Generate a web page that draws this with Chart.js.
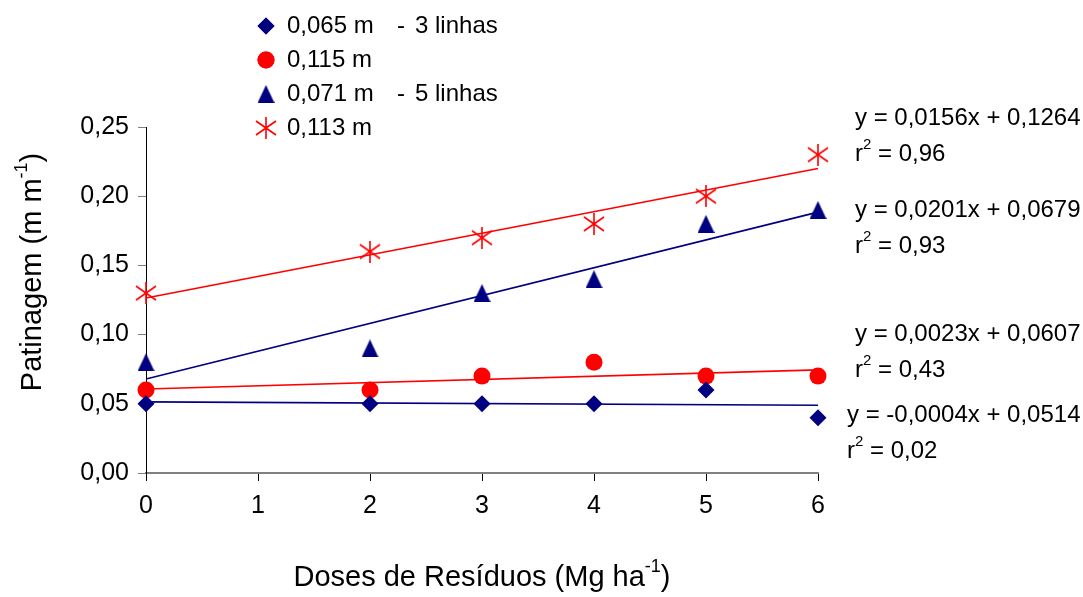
<!DOCTYPE html>
<html>
<head>
<meta charset="utf-8">
<script src="https://cdn.jsdelivr.net/npm/chart.js@4/dist/chart.umd.min.js"></script>
<style>
  html, body { margin: 0; padding: 0; background: #fff; }
  #wrap { position: relative; width: 1083px; height: 597px; }
</style>
</head>
<body>
<div id="wrap"><canvas id="c" width="1083" height="597"></canvas></div>
<script>
// ── Data ───────────────────────────────────────────────────────────
const DOSES   = [0, 2, 3, 4, 5, 6];
const S_065   = [0.05, 0.05, 0.05, 0.05, 0.06, 0.04];   // 0,065 m - 3 linhas
const S_115   = [0.06, 0.06, 0.07, 0.08, 0.07, 0.07];   // 0,115 m
const S_071   = [0.08, 0.09, 0.13, 0.14, 0.18, 0.19];   // 0,071 m - 5 linhas
const S_113   = [0.13, 0.16, 0.17, 0.18, 0.20, 0.23];   // 0,113 m

// fitted lines, value at x = 0 and x = 6
const FIT_X   = [0, 6];
const FIT_065 = [0.0514, 0.0490];
const FIT_115 = [0.0607, 0.0745];
const FIT_071 = [0.0679, 0.1885];
const FIT_113 = [0.1264, 0.2200];

const Y_TICKS = [0, 0.05, 0.10, 0.15, 0.20, 0.25];
const X_TICKS = [0, 1, 2, 3, 4, 5, 6];

const NAVY = '#000080';
const RED  = '#ff0000';
const FONT = '"Liberation Sans", Arial, sans-serif';

// 6-armed asterisk marker (Chart.js has no such style)
function makeStar(color) {
  const cv = document.createElement('canvas');
  cv.width = 22; cv.height = 22;
  const g = cv.getContext('2d');
  g.strokeStyle = color; g.lineWidth = 1.6;
  g.beginPath();
  g.moveTo(11, 0);  g.lineTo(11, 22);
  g.moveTo(1, 4);   g.lineTo(21, 18);
  g.moveTo(1, 18);  g.lineTo(21, 4);
  g.stroke();
  return cv;
}
// Excel-style triangle, a little taller than equilateral, centred on its box
function makeTriangle(color) {
  const cv = document.createElement('canvas');
  cv.width = 17; cv.height = 18;
  const g = cv.getContext('2d');
  g.fillStyle = color;
  g.beginPath();
  g.moveTo(8.5, 0); g.lineTo(17, 18); g.lineTo(0, 18);
  g.closePath();
  g.fill();
  return cv;
}
const STAR = makeStar(RED);
const TRI  = makeTriangle(NAVY);

const pts = (xs, ys) => xs.map((x, i) => ({ x, y: ys[i] }));
const fmt = v => v.toFixed(2).replace('.', ',');

function markerSet(data, style, color, radius) {
  return {
    type: 'scatter', data: pts(DOSES, data), order: 0, clip: false,
    pointStyle: style, pointRadius: radius, pointHoverRadius: radius,
    backgroundColor: color, borderColor: color, borderWidth: 0,
  };
}
function fitSet(data, color) {
  return {
    type: 'line', data: pts(FIT_X, data), order: 1, clip: false,
    borderColor: color, borderWidth: 1.6, pointRadius: 0, fill: false, tension: 0,
  };
}

// ── text with superscripts: parts = [[text, isSup], ...] ───────────
function drawRich(ctx, parts, x, y, size) {
  ctx.textBaseline = 'middle';
  ctx.textAlign = 'left';
  let cx = x;
  parts.forEach(([t, sup]) => {
    const s = sup ? Math.round(size * 0.62) : size;
    ctx.font = s + 'px ' + FONT;
    ctx.fillText(t, cx, sup ? y - size * 0.38 : y);
    cx += ctx.measureText(t).width;
  });
  return cx - x;
}
function richWidth(ctx, parts, size) {
  let w = 0;
  parts.forEach(([t, sup]) => {
    ctx.font = (sup ? Math.round(size * 0.62) : size) + 'px ' + FONT;
    w += ctx.measureText(t).width;
  });
  return w;
}

const LEGEND = [
  { style: 'rectRot', color: NAVY, r: 8.5, a: '0,065 m', b: '3 linhas' },
  { style: 'circle',  color: RED,  r: 8.5, a: '0,115 m' },
  { style: TRI,       color: NAVY, r: 10,  a: '0,071 m', b: '5 linhas' },
  { style: STAR,      color: RED,  r: 10,  a: '0,113 m' },
];
const LEGEND_Y = [26, 60, 94, 128];

const EQUATIONS = [
  { x: 855, y: 118, eq: 'y = 0,0156x + 0,1264', r2: '0,96' },
  { x: 855, y: 210, eq: 'y = 0,0201x + 0,0679', r2: '0,93' },
  { x: 855, y: 334, eq: 'y = 0,0023x + 0,0607', r2: '0,43' },
  { x: 847, y: 415, eq: 'y = -0,0004x + 0,0514', r2: '0,02' },
];

const annotate = {
  id: 'annotate',
  afterDraw(chart) {
    const ctx = chart.ctx;
    const area = chart.chartArea;
    ctx.save();
    ctx.fillStyle = '#000';

    // legend
    LEGEND.forEach((l, i) => {
      const y = LEGEND_Y[i];
      ctx.fillStyle = l.color; ctx.strokeStyle = l.color; ctx.lineWidth = 0;
      Chart.helpers.drawPoint(ctx, { pointStyle: l.style, radius: l.r, rotation: 0, borderWidth: 0 }, 266, y);
      if (typeof l.style === 'string') ctx.fill();
      ctx.fillStyle = '#000';
      ctx.font = '24px ' + FONT;
      ctx.textBaseline = 'middle'; ctx.textAlign = 'left';
      ctx.fillText(l.a, 287, y);
      if (l.b) { ctx.fillText('-', 397, y); ctx.fillText(l.b, 415, y); }
    });

    // regression equations
    EQUATIONS.forEach(e => {
      ctx.fillStyle = '#000';
      ctx.font = '24px ' + FONT;
      ctx.textBaseline = 'middle'; ctx.textAlign = 'left';
      ctx.fillText(e.eq, e.x, e.y);
      drawRich(ctx, [['r', false], ['2', true], [' = ' + e.r2, false]], e.x, e.y + 36, 24);
    });

    // axis titles
    const xt = [['Doses de Resíduos (Mg ha', false], ['-1', true], [')', false]];
    const xw = richWidth(ctx, xt, 29);
    drawRich(ctx, xt, (area.left + area.right) / 2 - xw / 2, 578, 29);

    const yt = [['Patinagem (m m', false], ['-1', true], [')', false]];
    const yw = richWidth(ctx, yt, 29);
    ctx.translate(33, 272);
    ctx.rotate(-Math.PI / 2);
    drawRich(ctx, yt, -yw / 2, 0, 29);
    ctx.restore();
  }
};

new Chart(document.getElementById('c'), {
  data: {
    datasets: [
      markerSet(S_065, 'rectRot', NAVY, 8.5),
      markerSet(S_115, 'circle', RED, 8.5),
      markerSet(S_071, TRI, NAVY, 10),
      markerSet(S_113, STAR, RED, 10),
      fitSet(FIT_065, NAVY),
      fitSet(FIT_115, RED),
      fitSet(FIT_071, NAVY),
      fitSet(FIT_113, RED),
    ],
  },
  options: {
    responsive: false,
    animation: false,
    events: [],
    layout: { padding: { left: 0, top: 127, right: 265, bottom: 0 } },
    plugins: { legend: { display: false }, tooltip: { enabled: false } },
    scales: {
      x: {
        type: 'linear', min: 0, max: 6,
        afterBuildTicks: s => { s.ticks = X_TICKS.map(v => ({ value: v })); },
        afterFit: s => { s.height = 124; },
        ticks: { color: '#000', font: { size: 25, family: FONT }, padding: 10, maxRotation: 0 },
        grid: { drawOnChartArea: false, drawTicks: true, tickLength: 8, tickColor: '#000', tickWidth: 1 },
        border: { color: '#808080', width: 2 },
      },
      y: {
        type: 'linear', min: 0, max: 0.25,
        afterBuildTicks: s => { s.ticks = Y_TICKS.map(v => ({ value: v })); },
        afterFit: s => { s.width = 146; },
        ticks: { color: '#000', font: { size: 25, family: FONT }, padding: 9, callback: v => fmt(v) },
        grid: { drawOnChartArea: false, drawTicks: true, tickLength: 8, tickColor: '#808080', tickWidth: 1 },
        border: { color: '#000', width: 1 },
      },
    },
  },
  plugins: [annotate],
});
</script>
</body>
</html>
